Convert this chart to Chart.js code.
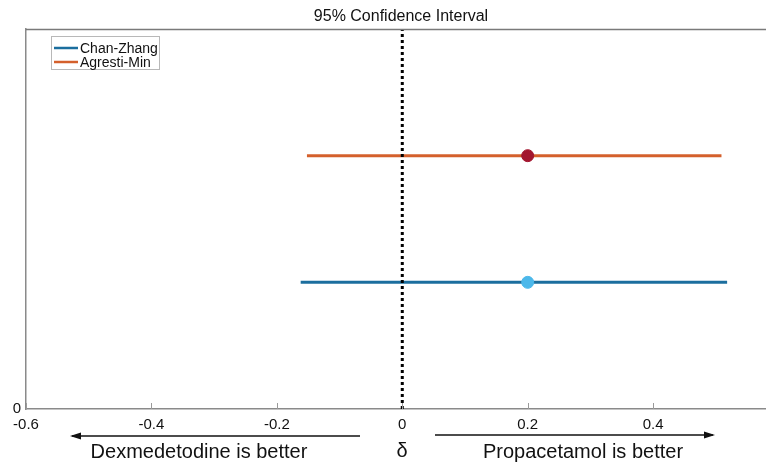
<!DOCTYPE html>
<html>
<head>
<meta charset="utf-8">
<script src="https://cdn.jsdelivr.net/npm/chart.js@4"></script>
<style>
  html, body { margin: 0; padding: 0; background: #fff; }
  #wrap { width: 766px; height: 464px; }
</style>
</head>
<body>
<div id="wrap"><canvas id="ci" width="766" height="464"></canvas></div>
<script>
// data
const seriesNames = ['Chan-Zhang', 'Agresti-Min'];
const rowY = [1, 2];
const lowerBound = [-0.162, -0.152];
const upperBound = [0.518, 0.509];
const estimate = [0.2, 0.2];
const xTickValues = [-0.6, -0.4, -0.2, 0, 0.2, 0.4];
const yTickValues = [0];

const lineColors = ['#1b6e9e', '#d4602c'];
const pointColors = ['#4cb8ea', '#a3162f'];
const fontFamily = '"Liberation Sans", Arial, sans-serif';

const datasets = [];

// reference line at delta = 0
datasets.push({
    label: 'zero',
    data: [{ x: 0, y: 0 }, { x: 0, y: 3 }],
    showLine: true,
    borderColor: '#000',
    borderWidth: 3,
    borderDash: [3, 3],
    pointRadius: 0,
    order: 0
});

seriesNames.forEach((name, i) => {
    datasets.push({
        label: name,
        data: [{ x: lowerBound[i], y: rowY[i] }, { x: upperBound[i], y: rowY[i] }],
        showLine: true,
        borderColor: lineColors[i],
        borderWidth: 3,
        pointRadius: 0,
        order: 2
    });
    datasets.push({
        label: name + ' estimate',
        data: [{ x: estimate[i], y: rowY[i] }],
        backgroundColor: pointColors[i],
        borderColor: pointColors[i],
        pointRadius: 6,
        order: 1
    });
});

const decor = {
    id: 'decor',
    afterDraw(chart) {
        const ctx = chart.ctx;
        const area = chart.chartArea;
        const xs = chart.scales.x;
        ctx.save();

        // top frame line
        ctx.strokeStyle = '#7a7a7a';
        ctx.lineWidth = 1.5;
        ctx.beginPath();
        ctx.moveTo(area.left, area.top + 0.5);
        ctx.lineTo(area.right, area.top + 0.5);
        ctx.stroke();

        // inner tick marks on x axis
        ctx.strokeStyle = '#9a9a9a';
        ctx.lineWidth = 1;
        xTickValues.forEach(v => {
            const px = Math.round(xs.getPixelForValue(v)) + 0.5;
            ctx.beginPath();
            ctx.moveTo(px, area.bottom);
            ctx.lineTo(px, area.bottom - 6);
            ctx.stroke();
        });

        // title
        ctx.fillStyle = '#111';
        ctx.font = '16px ' + fontFamily;
        ctx.textAlign = 'center';
        ctx.textBaseline = 'middle';
        ctx.fillText('95% Confidence Interval', 401, 17);

        // legend box
        const lx = 51, ly = 36, lw = 108, lh = 33;
        ctx.fillStyle = '#fff';
        ctx.fillRect(lx, ly, lw, lh);
        ctx.strokeStyle = '#b8b8b8';
        ctx.lineWidth = 1;
        ctx.strokeRect(lx + 0.5, ly + 0.5, lw, lh);
        ctx.font = '14px ' + fontFamily;
        ctx.textAlign = 'left';
        seriesNames.forEach((name, i) => {
            const ry = ly + 12 + i * 14;
            ctx.strokeStyle = lineColors[i];
            ctx.lineWidth = 2.5;
            ctx.beginPath();
            ctx.moveTo(lx + 3, ry);
            ctx.lineTo(lx + 27, ry);
            ctx.stroke();
            ctx.fillStyle = '#111';
            ctx.fillText(name, lx + 29, ry + 1);
        });

        // direction arrows
        const arrow = (x1, x2, y) => {
            ctx.strokeStyle = '#111';
            ctx.fillStyle = '#111';
            ctx.lineWidth = 1.5;
            ctx.beginPath();
            ctx.moveTo(x1, y);
            ctx.lineTo(x2, y);
            ctx.stroke();
            const d = x2 > x1 ? 1 : -1;
            ctx.beginPath();
            ctx.moveTo(x2 + d * 2, y);
            ctx.lineTo(x2 - d * 9, y - 3.5);
            ctx.lineTo(x2 - d * 9, y + 3.5);
            ctx.closePath();
            ctx.fill();
        };
        arrow(360, 72, 436);
        arrow(435, 713, 435);

        ctx.fillStyle = '#111';
        ctx.font = '20px ' + fontFamily;
        ctx.textAlign = 'center';
        ctx.fillText('Dexmedetodine is better', 199, 452);
        ctx.fillText('Propacetamol is better', 583, 452);
        ctx.fillText('δ', 402, 451);

        ctx.restore();
    }
};

new Chart(document.getElementById('ci'), {
    type: 'scatter',
    data: { datasets: datasets },
    options: {
        responsive: false,
        animation: false,
        layout: { autoPadding: false, padding: { top: 29, left: 0, right: 0, bottom: 0 } },
        plugins: {
            legend: { display: false },
            tooltip: { enabled: false },
            title: { display: false }
        },
        scales: {
            x: {
                type: 'linear',
                min: -0.6,
                max: 0.58,
                afterFit: s => { s.height = 55; s.paddingLeft = 0; s.paddingRight = 0; },
                afterBuildTicks: s => { s.ticks = xTickValues.map(v => ({ value: v })); },
                grid: { display: false, drawTicks: false },
                border: { color: '#8a8a8a', width: 1.5 },
                ticks: {
                    autoSkip: false,
                    maxRotation: 0,
                    padding: 7,
                    color: '#111',
                    font: { family: fontFamily, size: 15 },
                    callback: v => String(Math.round(v * 10) / 10)
                }
            },
            y: {
                type: 'linear',
                min: 0,
                max: 3,
                afterFit: s => { s.width = 26; },
                afterBuildTicks: s => { s.ticks = yTickValues.map(v => ({ value: v })); },
                grid: { display: false, drawTicks: false },
                border: { color: '#8a8a8a', width: 1.5 },
                ticks: {
                    padding: 5,
                    color: '#111',
                    font: { family: fontFamily, size: 15 },
                    callback: v => String(v)
                }
            }
        }
    },
    plugins: [decor]
});
</script>
</body>
</html>
